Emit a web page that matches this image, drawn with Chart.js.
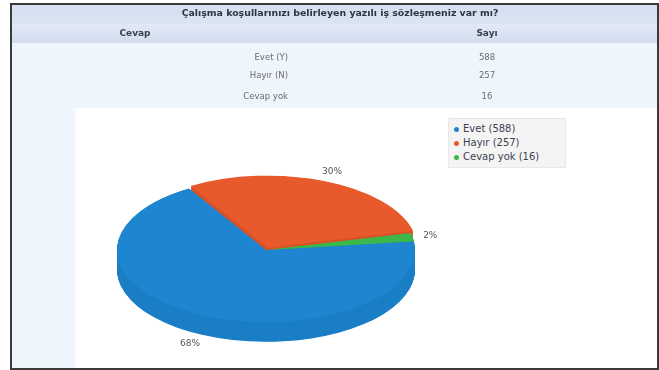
<!DOCTYPE html>
<html><head><meta charset="utf-8">
<script src="https://cdn.jsdelivr.net/npm/chart.js@4.4.1/dist/chart.umd.min.js"></script>
<style>
html,body{margin:0;padding:0;width:659px;height:370px;overflow:hidden;background:#fff;font-family:"DejaVu Sans",Verdana,sans-serif;}
.abs{position:absolute;}
#frame{left:10px;top:3px;width:645px;height:363px;border:2px solid #3a3a3a;z-index:5;pointer-events:none;}
#band1{left:12px;top:5px;width:645px;height:19px;background:linear-gradient(#d4dff0,#dbe4f2);}
#band2{left:12px;top:24px;width:645px;height:19px;background:linear-gradient(#e2e9f5,#d2dcee);}
#body{left:12px;top:43px;width:645px;height:65px;background:#eef5fd;}
#leftcol{left:12px;top:108px;width:62px;height:262px;background:#eef5fd;box-shadow:2px 0 3px #f4f8fc;}
.title{font-weight:bold;font-size:9.4px;color:#2e3440;white-space:nowrap;}
.head{font-weight:bold;font-size:9px;color:#3b4250;white-space:nowrap;}
.cell{font-size:8.5px;color:#6b6b6b;white-space:nowrap;}
#chartwrap{left:0;top:0;width:659px;height:370px;z-index:2;}
#legend{left:448px;top:118px;width:118px;height:50px;background:#f4f4f4;border:1px solid #e8e8e8;z-index:3;box-sizing:border-box;padding-top:3px;}
.li{font-size:10px;color:#3d4150;height:14px;line-height:14px;white-space:nowrap;padding-left:14px;position:relative;}
.dot{position:absolute;left:5px;top:5px;width:5px;height:5px;border-radius:50%;}
</style>
</head><body>
<div id="band1" class="abs"></div>
<div id="band2" class="abs"></div>
<div id="body" class="abs"></div>
<div id="leftcol" class="abs"></div>
<div id="texts"></div>
<div id="chartwrap" class="abs"><canvas id="c" width="659" height="370"></canvas></div>
<div id="legend" class="abs"></div>
<div id="frame" class="abs"></div>
<script>
const title = 'Çalışma koşullarınızı belirleyen yazılı iş sözleşmeniz var mı?';
const headers = ['Cevap', 'Sayı'];
const categories = ['Evet', 'Hayır', 'Cevap yok'];
const tableLabels = ['Evet (Y)', 'Hayır (N)', 'Cevap yok'];
const counts = [588, 257, 16];
const colors = ['#1e86d0', '#e85a2b', '#3cb84a'];
const sideColors = ['#1b7fc6', '#d85226', '#36aa43'];
const explode = [0, 20, 0];

// ---- HTML table texts ----
const texts = document.getElementById('texts');
function addText(str, cls, x, y, align) {
  const d = document.createElement('div');
  d.className = 'abs ' + cls;
  d.textContent = str;
  d.style.top = (y - 6) + 'px';
  d.style.lineHeight = '12px';
  if (align === 'center') { d.style.left = (x - 200) + 'px'; d.style.width = '400px'; d.style.textAlign = 'center'; }
  else if (align === 'right') { d.style.left = (x - 200) + 'px'; d.style.width = '200px'; d.style.textAlign = 'right'; }
  else { d.style.left = x + 'px'; }
  d.style.zIndex = 4;
  texts.appendChild(d);
}
addText(title, 'title', 340, 13, 'center');
addText(headers[0], 'head', 135, 33, 'center');
addText(headers[1], 'head', 487, 33, 'center');
const rowY = [57, 75, 96];
tableLabels.forEach((l, i) => {
  addText(l, 'cell', 288, rowY[i], 'right');
  addText(String(counts[i]), 'cell', 487, rowY[i], 'center');
});

// ---- legend ----
const legend = document.getElementById('legend');
categories.forEach((c, i) => {
  const li = document.createElement('div');
  li.className = 'li';
  li.innerHTML = '<span class="dot" style="background:' + colors[i] + '"></span>';
  li.appendChild(document.createTextNode(c + ' (' + counts[i] + ')'));
  legend.appendChild(li);
});

// ---- 3D pie via transform ----
const TARGET_CY = 250;  // screen y of pie centre
const K = 72 / 149;     // vertical squish
const DEPTH = 20;       // screen px of side wall
const total = counts.reduce((a, b) => a + b, 0);

const pie3d = {
  id: 'pie3d',
  beforeDatasetsDraw(chart) {
    const ctx = chart.ctx;
    const meta = chart.getDatasetMeta(0);
    const cy = meta.data[0].y;
    ctx.save();
    ctx.translate(0, TARGET_CY);
    ctx.scale(1, K);
    ctx.translate(0, -cy);
    const steps = Math.round(DEPTH / K);
    for (let d = steps; d > 0; d--) {
      meta.data.forEach((arc, i) => {
        const orig = arc.options;
        arc.options = Object.assign({}, orig, { backgroundColor: sideColors[i] });
        ctx.save();
        ctx.translate(0, d);
        arc.draw(ctx);
        ctx.restore();
        arc.options = orig;
      });
    }
  },
  afterDatasetsDraw(chart) {
    chart.ctx.restore();
  },
  afterDraw(chart) {
    const ctx = chart.ctx;
    const meta = chart.getDatasetMeta(0);
    ctx.save();
    ctx.font = '9px "DejaVu Sans", sans-serif';
    ctx.fillStyle = '#555';
    ctx.textAlign = 'center';
    ctx.textBaseline = 'middle';
    meta.data.forEach((arc, i) => {
      const mid = (arc.startAngle + arc.endAngle) / 2;
      const R = arc.outerRadius;
      const sh = (explode[i] || 0) / 4;
      const c = Math.cos(mid), s = Math.sin(mid);
      const gx = 18 + 15 * Math.max(0, -c);
      const x = arc.x + c * (R + gx) + c * sh;
      let y = TARGET_CY + s * (R * K + 10) + s * sh * K;
      if (s > 0) y += DEPTH;
      ctx.fillText(Math.round(counts[i] / total * 100) + '%', x, y);
    });
    ctx.restore();
  }
};

new Chart(document.getElementById('c'), {
  type: 'pie',
  data: {
    labels: categories,
    datasets: [{
      data: counts,
      backgroundColor: colors,
      borderWidth: 0,
      offset: explode,
      clip: false
    }]
  },
  options: {
    responsive: false,
    animation: false,
    rotation: 83,
    radius: 149,
    layout: { padding: { left: 106, right: 233, top: 25, bottom: 25 } },
    plugins: { legend: { display: false }, tooltip: { enabled: false } },
    events: []
  },
  plugins: [pie3d]
});
</script>
</body></html>
